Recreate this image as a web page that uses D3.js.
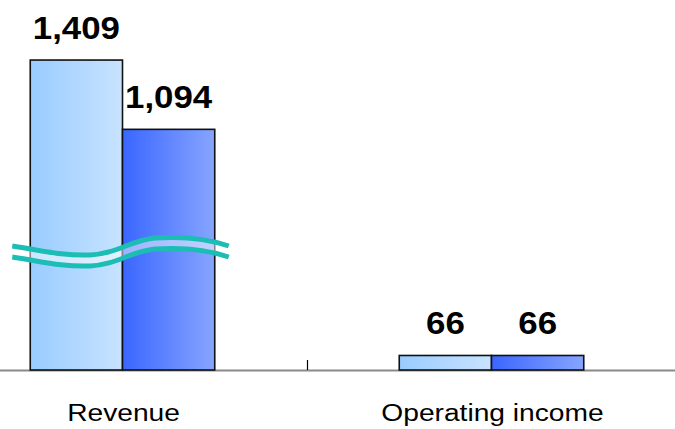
<!DOCTYPE html>
<html>
<head>
<meta charset="utf-8">
<script src="https://cdn.jsdelivr.net/npm/d3@7"></script>
<style>
  html, body { margin: 0; padding: 0; background: #fff; }
  svg { display: block; }
  text { font-family: Arial, "Liberation Sans", sans-serif; }
</style>
</head>
<body>
<script>
// Categories and the two periods compared
const categories = ["Revenue", "Operating income"];
const series = ["prev", "curr"];
const prevValues = [1409, 66];
const currValues = [1094, 66];
const valueLabels = [["1,409", "1,094"], ["66", "66"]];

const W = 675, H = 429;
const baseY = 370;

const svg = d3.select("body").append("svg")
  .attr("width", W).attr("height", H);

const defs = svg.append("defs");
const gradPrev = defs.append("linearGradient").attr("id", "gPrev")
  .attr("x1", "0%").attr("x2", "100%").attr("y1", "0%").attr("y2", "0%");
gradPrev.append("stop").attr("offset", "0%").attr("stop-color", "#99CCFF");
gradPrev.append("stop").attr("offset", "100%").attr("stop-color", "#C8E3FF");
const gradCurr = defs.append("linearGradient").attr("id", "gCurr")
  .attr("x1", "0%").attr("x2", "100%").attr("y1", "0%").attr("y2", "0%");
gradCurr.append("stop").attr("offset", "0%").attr("stop-color", "#3A66FF");
gradCurr.append("stop").attr("offset", "100%").attr("stop-color", "#87A5FF");
const fills = { prev: "url(#gPrev)", curr: "url(#gCurr)" };

// Scales
const x0 = d3.scaleBand().domain(categories).range([-62, 676]).padding(0);
const bw = x0.bandwidth();
const x1 = d3.scaleBand().domain(series).range([bw * 0.25, bw * 0.75]).padding(0);
const y = d3.scaleLinear().domain([0, 1682]).range([baseY, 0]);

const rows = categories.map((c, i) => ({
  cat: c,
  vals: [
    { key: "prev", v: prevValues[i], label: valueLabels[i][0] },
    { key: "curr", v: currValues[i], label: valueLabels[i][1] }
  ]
}));

// Baseline and the divider tick between groups
svg.append("line")
  .attr("x1", 0).attr("x2", W)
  .attr("y1", baseY + 0.5).attr("y2", baseY + 0.5)
  .attr("stroke", "#8a8a8a").attr("stroke-width", 2);
svg.append("line")
  .attr("x1", x0(categories[1]) + 0.5).attr("x2", x0(categories[1]) + 0.5)
  .attr("y1", baseY - 10).attr("y2", baseY)
  .attr("stroke", "#000").attr("stroke-width", 1.2);

const groups = svg.selectAll("g.grp").data(rows).join("g")
  .attr("class", "grp")
  .attr("transform", d => `translate(${x0(d.cat)},0)`);

groups.selectAll("rect").data(d => d.vals).join("rect")
  .attr("x", d => x1(d.key))
  .attr("y", d => y(d.v))
  .attr("width", x1.bandwidth())
  .attr("height", d => baseY - y(d.v))
  .attr("fill", d => fills[d.key])
  .attr("stroke", "#111")
  .attr("stroke-width", 1.6);

// Value labels
const sx = 1.09;
groups.selectAll("text.val").data(d => d.vals).join("text")
  .attr("class", "val")
  .attr("transform", d => `translate(${x1(d.key) + x1.bandwidth() / 2},${y(d.v) - 21.5}) scale(${sx},1)`)
  .attr("text-anchor", "middle")
  .attr("font-size", 32)
  .attr("font-weight", "bold")
  .attr("fill", "#000")
  .text(d => d.label);

// Category labels
svg.selectAll("text.cat").data(categories).join("text")
  .attr("class", "cat")
  .attr("transform", d => `translate(${x0(d) + bw / 2 + 1},${421}) scale(1.15,1)`)
  .attr("text-anchor", "middle")
  .attr("font-size", 24.5)
  .attr("fill", "#000")
  .text(d => d);

// Axis-break waves across the Revenue bars
const g0 = x0(categories[0]);
const waveX0 = g0 + x1("prev") - 18, waveX1 = g0 + x1("curr") + x1.bandwidth() + 14;
const span = waveX1 - waveX0;
const waveY = 246;
const wave = (dy) => {
  const p = d3.path();
  p.moveTo(waveX0, waveY + dy);
  p.bezierCurveTo(waveX0 + span * 0.13, waveY + dy + 4, waveX0 + span * 0.22, waveY + dy + 10, waveX0 + span * 0.36, waveY + dy + 9);
  p.bezierCurveTo(waveX0 + span * 0.48, waveY + dy + 8, waveX0 + span * 0.55, waveY + dy - 6, waveX0 + span * 0.66, waveY + dy - 8);
  p.bezierCurveTo(waveX0 + span * 0.80, waveY + dy - 10, waveX0 + span * 0.92, waveY + dy - 6, waveX1, waveY + dy);
  return p.toString();
};
const breakG = svg.append("g");
breakG.append("path").attr("d", wave(5.5))
  .attr("fill", "none").attr("stroke", "#fff").attr("stroke-opacity", 0.5)
  .attr("stroke-width", 8);
[0, 11].forEach(dy => {
  breakG.append("path").attr("d", wave(dy))
    .attr("fill", "none").attr("stroke", "#1CBDB5")
    .attr("stroke-width", 5).attr("stroke-linecap", "butt");
});
</script>
</body>
</html>
